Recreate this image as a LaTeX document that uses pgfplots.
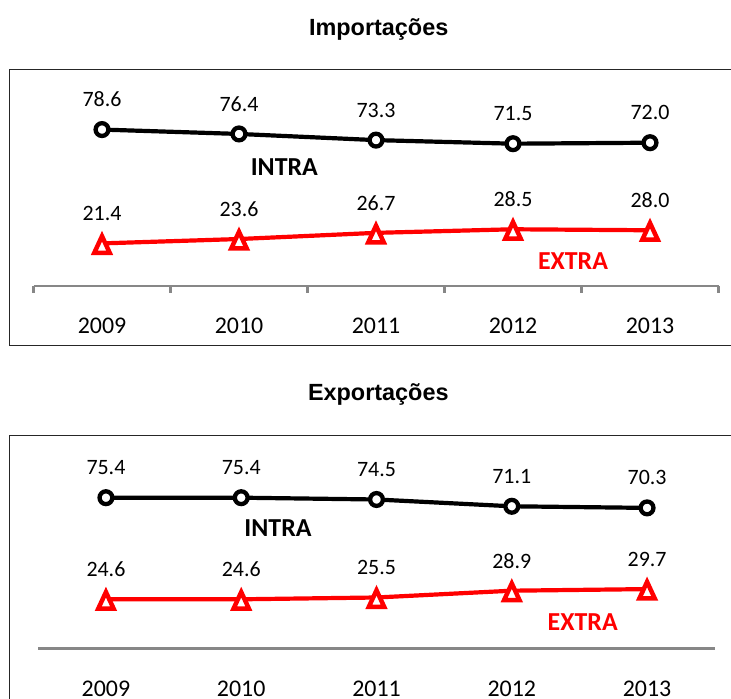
\documentclass[border=0pt]{standalone}
\usepackage{pgfplots}
\pgfplotsset{compat=1.18}
\usepackage{fontspec}
\setmainfont{Carlito}
\newfontfamily\arialfont{Liberation Sans}
\definecolor{axgray}{HTML}{878787}
\definecolor{myred}{HTML}{FF0000}
\pgfdeclareplotmark{mytri}{%
  \pgfpathmoveto{\pgfpoint{0bp}{7.2bp}}%
  \pgfpathlineto{\pgfpoint{7.7bp}{-9.4bp}}%
  \pgfpathlineto{\pgfpoint{-7.7bp}{-9.4bp}}%
  \pgfpathclose
  \pgfusepathqfillstroke}
\pgfplotsset{
  panel/.style={
    scale only axis, clip=false,
    xmin=-0.5, xmax=4.5, ymin=0, ymax=100,
    axis x line=bottom, axis y line=none, ytick=\empty,
    x axis line style={axgray, line width=2.7bp, -},
    xtick={0,1,2,3,4},
    xticklabels={2009,2010,2011,2012,2013},
    major tick length=0pt,
    xticklabel style={anchor=center, yshift=-40bp, text=black,
      font=\fontsize{24}{24}\selectfont},
  },
  intra/.style={black, line width=4.2bp, mark=*, mark size=6.4bp,
    mark options={fill=white, draw=black, line width=4.3bp},
    nodes near coords, point meta=explicit symbolic,
    every node near coord/.append style={anchor=center, yshift=30bp, text=black,
      font=\fontsize{22}{22}\selectfont}},
  extra/.style={myred, line width=4.2bp, mark=mytri,
    mark options={fill=white, draw=myred, line width=4.5bp, line join=miter},
    nodes near coords, point meta=explicit symbolic,
    every node near coord/.append style={anchor=center, yshift=30bp, text=black,
      font=\fontsize{22}{22}\selectfont}},
}
\begin{document}
\begin{tikzpicture}[x=1bp,y=1bp]
\useasboundingbox (0,0) rectangle (731,699);
\draw[line width=1.4bp, black!85] (9.3,353.3) rectangle (745,629.7);
\draw[line width=1.4bp, black!85] (9.3,-30) rectangle (745,263.3);
\node[anchor=base, inner sep=0pt, font=\arialfont\bfseries\fontsize{23.5}{24}\selectfont] at (378.7,663.2) {Importações};
\node[anchor=base, inner sep=0pt, font=\arialfont\bfseries\fontsize{23.5}{24}\selectfont] at (378.3,298.5) {Exportações};

\begin{axis}[panel, at={(33.5bp,413bp)}, anchor=south west,
  width=685bp, height=199bp,
  minor xtick={-0.5,0.5,1.5,2.5,3.5,4.5},
  minor tick length=7bp, tick align=outside,
  minor tick style={axgray, line width=2.2bp}]
\addplot[intra] coordinates {(0,78.6) [78.6] (1,76.4) [76.4] (2,73.3) [73.3] (3,71.5) [71.5] (4,72.0) [72.0]};
\addplot[extra] coordinates {(0,21.4) [21.4] (1,23.6) [23.6] (2,26.7) [26.7] (3,28.5) [28.5] (4,28.0) [28.0]};
\end{axis}

\begin{axis}[panel, at={(38.3bp,50.5bp)}, anchor=south west,
  width=676.4bp, height=200bp]
\addplot[intra] coordinates {(0,75.4) [75.4] (1,75.4) [75.4] (2,74.5) [74.5] (3,71.1) [71.1] (4,70.3) [70.3]};
\addplot[extra] coordinates {(0,24.6) [24.6] (1,24.6) [24.6] (2,25.5) [25.5] (3,28.9) [28.9] (4,29.7) [29.7]};
\end{axis}

\node[font=\bfseries\fontsize{26}{26}\selectfont, text=black] at (284.3,532.3) {INTRA};
\node[font=\bfseries\fontsize{26}{26}\selectfont, text=myred] at (573,437.5) {EXTRA};
\node[font=\bfseries\fontsize{26}{26}\selectfont, text=black] at (278,171.3) {INTRA};
\node[font=\bfseries\fontsize{26}{26}\selectfont, text=myred] at (582.7,77) {EXTRA};
\end{tikzpicture}
\end{document}
